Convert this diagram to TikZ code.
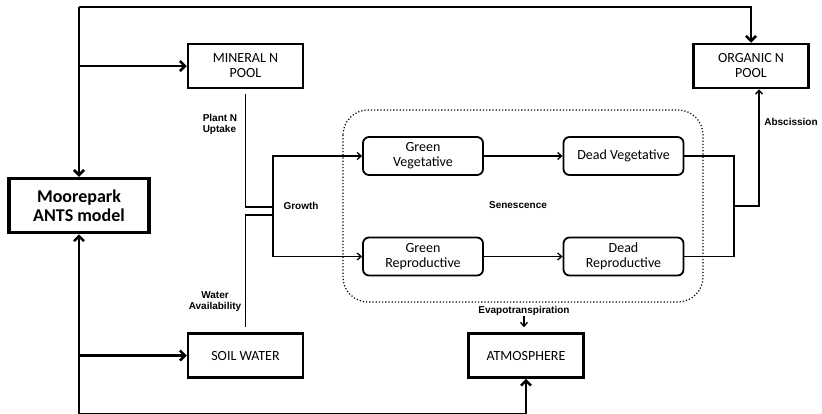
\documentclass[tikz,border=0pt]{standalone}
\usepackage{fontspec}
\setmainfont{Carlito}
\newfontfamily\labelfont{Liberation Sans}
\usetikzlibrary{arrows.meta}

\begin{document}
\begin{tikzpicture}[x=1pt,y=-1pt,line width=1.3pt,
	pool/.style={draw,line width=2.5pt,minimum width=115pt,minimum height=44pt,align=center,font=\fontsize{14}{15}\selectfont},
	organ/.style={draw,line width=1.8pt,rounded corners=6pt,minimum width=120pt,minimum height=38pt,align=center,font=\fontsize{14}{15}\selectfont},
	flow/.style={font=\labelfont\bfseries\fontsize{10}{11}\selectfont,align=center,inner sep=0pt},
	thickarrow/.style={line width=2.5pt,-{Straight Barb[length=5pt,width=10pt]}},
	thinarrow/.style={-{Straight Barb[length=4pt,width=7pt]}}]
			\useasboundingbox (0,0) rectangle (822,413);
			\node[draw,line width=3.5pt,minimum width=140pt,minimum height=54pt,align=center,
				font=\bfseries\fontsize{18}{19}\selectfont] (model) at (79,205.5) {Moorepark\\ANTS model};
			\node[pool] (mineral) at (245.5,66) {MINERAL N\\POOL};
			\node[pool] (organic) at (751,66) {ORGANIC N\\POOL};
			\node[pool] (soil) at (245.5,355.5) {SOIL WATER};
			\node[pool] (atmos) at (526,355.5) {ATMOSPHERE};
			\draw[dotted,line width=1.2pt,rounded corners=25pt] (343,110) rectangle (703,302);
			\node[organ] (gveg) at (423,156) {Green\\Vegetative};
			\node[organ] (dveg) at (623.5,156) {Dead Vegetative};
			\node[organ] (grep) at (423,256.5) {Green\\Reproductive};
			\node[organ] (drep) at (623.5,256.5) {Dead\\Reproductive};
			\node[flow,align=left] (uptake) at (220,124) {Plant N\\Uptake};
			\node[flow] (water) at (215,302) {Water\\Availability};
			\node[flow] (growth) at (301,206) {Growth};
			\node[flow] (senescence) at (518,205) {Senescence};
			\node[flow] (abscission) at (791,122) {Abscission};
			\node[flow] (evap) at (524,311) {Evapotranspiration};
			\coordinate (topleft) at (79,7);
			\coordinate (botleft) at (79,414);
			\coordinate (split) at (273,207);
			\coordinate (wjoin) at (273,215);
			\coordinate (merge) at (734,206);
			\draw[thickarrow] (topleft) -- (model.north);
			\draw[thickarrow] (topleft) -| (organic.north);
			\draw[thickarrow] (model.north |- mineral.west) -- (mineral.west);
			\draw[thickarrow] (botleft) -- (model.south);
			\draw[thickarrow] (botleft) -| (atmos.south);
			\draw[thickarrow] (model.south |- soil.west) -- (soil.west);
			\draw ([yshift=-5pt]mineral.south) |- (split);
			\draw ([yshift=5pt]soil.north) |- (wjoin);
			\draw[thinarrow] (split) |- (gveg.west);
			\draw[thinarrow] (split) |- (grep.west);
			\draw[thinarrow] (gveg) -- (dveg);
			\draw[thinarrow] (grep) -- (drep);
			\draw (dveg.east) -| (merge);
			\draw (drep.east) -| (merge);
			\draw[thinarrow] (merge) -| ([xshift=8pt]organic.south);
			\draw[thinarrow,shorten >=5pt] (evap.south) -- (evap.south |- atmos.north);
\end{tikzpicture}
\end{document}
